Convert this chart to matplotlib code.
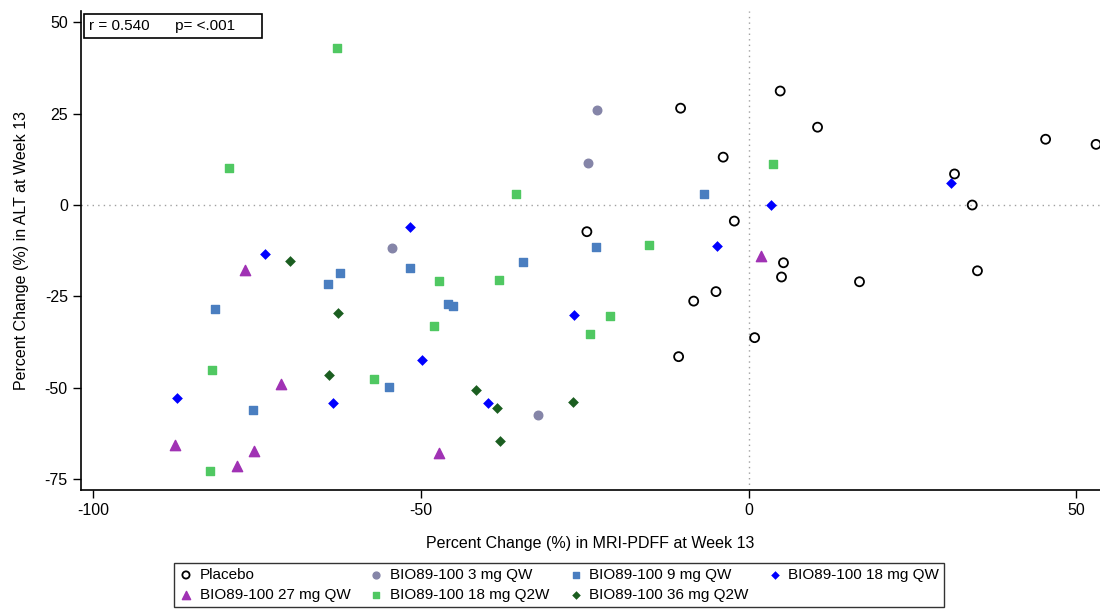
import numpy as np
import matplotlib.pyplot as plt

plt.rcParams['font.family'] = ['Liberation Sans', 'DejaVu Sans']
plt.rcParams['axes.unicode_minus'] = False

# ============================================================
# DADOS
# ============================================================

placebo_x = [-10.4, 4.8, 10.5, -3.9, 31.4, 34.1, 45.3, 53.0, -2.2, -24.7,
             5.3, 5.0, 34.9, 16.9, -5.0, -8.4, -10.7, 0.9]
placebo_y = [26.5, 31.2, 21.3, 13.1, 8.5, 0.0, 18.0, 16.6, -4.4, -7.3,
             -15.8, -19.7, -18.0, -21.0, -23.7, -26.3, -41.5, -36.3]

qw3_x = [-23.1, -24.6, -54.5, -32.1]
qw3_y = [26.0, 11.5, -11.8, -57.4]

qw9_x = [-6.8, -23.3, -51.7, -62.3, -64.2, -81.4, -54.9, -75.6, -34.4, -45.9, -45.1]
qw9_y = [3.0, -11.5, -17.3, -18.6, -21.6, -28.5, -49.8, -56.0, -15.6, -27.0, -27.7]

qw18_x = [30.9, 3.4, -4.9, -73.8, -51.7, -26.6, -49.9, -87.3, -63.5, -39.8]
qw18_y = [5.9, 0.0, -11.3, -13.5, -6.1, -30.1, -42.3, -52.9, -54.3, -54.3]

qw27_x = [1.8, -76.9, -71.3, -87.5, -75.5, -78.1, -47.3]
qw27_y = [-13.9, -17.7, -48.9, -65.6, -67.3, -71.5, -68.0]

q2w18_x = [-62.8, -79.3, 3.7, -35.5, -15.2, -47.2, -38.1, -21.2, -24.2,
           -48.0, -81.9, -57.2, -82.2]
q2w18_y = [43.0, 10.0, 11.1, 3.0, -11.0, -20.8, -20.6, -30.4, -35.3,
           -33.1, -45.1, -47.6, -72.7]

q2w36_x = [-70.0, -62.7, -64.0, -41.6, -38.4, -38.0, -26.8]
q2w36_y = [-15.3, -29.5, -46.5, -50.6, -55.6, -64.6, -53.8]

r_text = "r = 0.540      p= <.001     "

# ============================================================
# GRÁFICO
# ============================================================

fig = plt.figure(figsize=(11, 6.11), dpi=100)
ax = fig.add_axes([0.0736, 0.198, 0.9264, 0.784])

ax.axhline(0, color='#a0a0a0', linestyle=(0, (1, 3)), linewidth=1, zorder=1)
ax.axvline(0, color='#a0a0a0', linestyle=(0, (1, 3)), linewidth=1, zorder=1)

h_pl = ax.scatter(placebo_x, placebo_y, s=42, facecolors='none', edgecolors='black',
                  linewidths=1.3, marker='o', zorder=3, label='Placebo')
h_3 = ax.scatter(qw3_x, qw3_y, s=38, color='#8585a8', marker='o', zorder=3,
                 label='BIO89-100 3 mg QW')
h_9 = ax.scatter(qw9_x, qw9_y, s=30, color='#4a7ec0', marker='s', zorder=3,
                 label='BIO89-100 9 mg QW')
h_18 = ax.scatter(qw18_x, qw18_y, s=30, color='#0000ff', marker='D', zorder=3,
                  label='BIO89-100 18 mg QW', linewidths=0)
h_27 = ax.scatter(qw27_x, qw27_y, s=55, color='#a032b4', marker='^', zorder=3,
                  label='BIO89-100 27 mg QW')
h_18b = ax.scatter(q2w18_x, q2w18_y, s=30, color='#50c862', marker='s', zorder=3,
                   label='BIO89-100 18 mg Q2W')
h_36 = ax.scatter(q2w36_x, q2w36_y, s=30, color='#1b5e20', marker='D', zorder=3,
                  label='BIO89-100 36 mg Q2W', linewidths=0)

ax.set_xlim(-101.9, 53.6)
ax.set_ylim(-78.0, 53.1)
ax.set_xticks([-100, -50, 0, 50])
ax.set_yticks([-75, -50, -25, 0, 25, 50])
ax.tick_params(direction='out', length=6, width=1, labelsize=11.5, colors='black')
ax.spines['top'].set_visible(False)
ax.spines['right'].set_visible(False)
ax.spines['left'].set_linewidth(1.2)
ax.spines['bottom'].set_linewidth(1.2)

ax.set_xlabel('Percent Change (%) in MRI-PDFF at Week 13', fontsize=11.5, labelpad=13)
ax.set_ylabel('Percent Change (%) in ALT at Week 13', fontsize=11.5, labelpad=11)

ax.text(0.008, 0.983, r_text, transform=ax.transAxes, fontsize=11, va='top', ha='left',
        bbox=dict(boxstyle='square,pad=0.35', facecolor='white', edgecolor='black', linewidth=1.2))

handles = [h_pl, h_27, h_3, h_18b, h_9, h_36, h_18]
leg = fig.legend(handles=handles, labels=[h.get_label() for h in handles], loc='center',
                 bbox_to_anchor=(0.508, 0.0425), ncol=4, fontsize=11, frameon=True,
                 fancybox=False, edgecolor='black', handletextpad=0.4, columnspacing=1.2,
                 borderpad=0.3, labelspacing=0.4, handlelength=1.0, scatterpoints=1,
                 markerscale=0.8)
leg.get_frame().set_linewidth(1.0)

fig.savefig('out.png', dpi=100)
